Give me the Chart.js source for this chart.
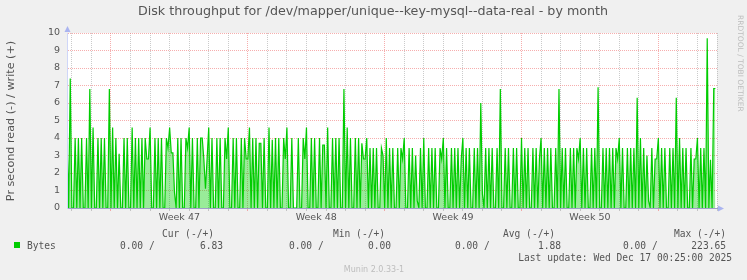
<!DOCTYPE html>
<html>
<head>
<meta charset="utf-8">
<title>Disk throughput - by month</title>
<script src="https://cdn.jsdelivr.net/npm/chart.js@4"></script>
<style>
  body { margin: 0; background: #f0f0f0; }
  canvas { display: block; }
</style>
</head>
<body>
<canvas id="chart" width="747" height="280"></canvas>
<script>
// write (+) bytes per second, one value per 2 hour sample.
// read (-) is 0 for the whole month so it is not drawn.
const week46Tail = [4.0,0,7.4,0,0,4.0,0,4.0,0,4.0,0,0,4.0,0,6.8,0,4.6,0,0,4.0,0,4.0,0,4.0,0,0,6.8];
const week47 = [
    0,4.6,0,4.0,0,3.1,0,0,4.0,0,
    4.0,0,0,4.6,0,4.0,0,4.0,0,4.0,
    0,4.0,2.8,2.8,4.6,0,0,4.0,0,4.0,
    0,4.0,0,0,4.0,3.43,4.6,3.15,3.15,0.86,
    0,4.0,0,4.0,0,0,4.0,3.43,4.6,0,
    4.0,0,0,4.0,0,4.0,4.0,2.8,1.1,2.8,
    4.6,0,4.0,0,0,4.0,0,4.0,0,0,
    4.0,2.8,4.6,0,0,4.0,0,4.0,0,0,
    4.0,0,4.0,2.8
];
const week48 = [
    2.8,4.6,0,4.0,0,4.0,0,3.7,3.7,0,
    4.0,0,0,4.6,0,3.9,0,4.0,0,4.0,
    0,0,4.0,2.8,4.6,0,0,4.0,0,0,
    0,4.0,0,0,4.0,2.8,4.6,0,0,4.0,
    0,4.0,0,0,4.0,0,3.6,3.6,0,4.6,
    0,0,4.0,0,4.0,0,4.0,0,0,6.8,
    0,4.6,0,4.0,0,0,4.0,0,4.0,0,
    3.7,2.8,2.8,4.0,0,3.43,0,3.43,0,3.43,
    0,0,3.43,3.0
];
const week49 = [
    0,4.0,0,3.43,0,3.43,0,0,3.43,0,
    3.43,2.8,4.0,0,0,3.43,0,3.43,0,3.0,
    0.4,0,3.43,0,4.0,0,0,3.43,0,3.43,
    0,3.43,0,0,3.43,2.8,4.0,0,3.43,0,
    0,3.43,0,3.43,0,3.43,0,2.8,4.0,0,
    3.43,0,3.43,0,0,3.43,0,3.43,0,6.0,
    0.8,0,3.43,0,3.43,0,3.43,0,0,3.43,
    0,6.8,0,0,3.43,0,3.43,0,0,3.43,
    0,3.43,0,0
];
const week50 = [
    4.0,0,3.43,0,3.43,0,0,3.43,0,3.43,
    0,2.8,4.0,0,3.43,0,3.43,0,3.43,0,
    0,3.43,0,6.8,0,3.43,0,3.43,0,0,
    3.43,0,3.43,0,3.43,2.8,4.0,0,3.43,0,
    3.43,0,0,3.43,0,3.43,0,6.9,0,0,
    3.43,0,3.43,0,3.43,0,3.43,0,3.43,2.8,
    4.0,0,3.43,0,0,3.43,0,3.43,0,3.43,
    0,6.3,0,4.0,0,3.43,0,3.0,0.4,0,
    3.43,0,2.8,2.8
];
const week51Head = [
    4.0,0,3.43,0,3.43,0,0,3.43,0,3.43,
    0,6.3,0,4.0,0,3.43,0,3.43,0,0,
    3.43,0,2.8,2.8,4.0,0,3.43,0,3.43,0,
    9.7,0,2.75,0,6.83,6.83
];

const weekLabels = ['Week 47', 'Week 48', 'Week 49', 'Week 50'];
const yLabels = [0, 1, 2, 3, 4, 5, 6, 7, 8, 9, 10];
const yGridValues = [0, 0.5, 1, 1.5, 2, 2.5, 3, 3.5, 4, 4.5, 5, 5.5, 6, 6.5, 7, 7.5, 8, 8.5, 9, 9.5, 10];

const legendHeaders = ['Cur (-/+)', 'Min (-/+)', 'Avg (-/+)', 'Max (-/+)'];
const legendRead = ['0.00', '0.00', '0.00', '0.00'];
const legendWrite = ['6.83', '0.00', '1.88', '223.65'];

// hours relative to Monday 00:00 of week 47
const startHour = -54;
const stepHours = 2;
const endHour = 744;
const hoursPerWeek = 168;

const writeValues = [].concat(week46Tail, week47, week48, week49, week50, week51Head);
const points = writeValues.map((v, i) => ({ x: startHour + i * stepHours, y: v }));

const GREEN = '#00cc00';
const RED = 'rgba(240,120,120,0.6)';
const GRAY = 'rgba(140,140,140,0.45)';
const TEXT = '#555';
const AXIS = '#cfd6f8';
const tickFont = { family: 'DejaVu Sans', size: 9.5 };

function xGridColor(c) {
    if (!c.tick) return GRAY;
    const v = c.tick.value;
    if (v % hoursPerWeek === 0) return RED;
    if (v % 24 === 0) return GRAY;
    return 'rgba(0,0,0,0)';
}

const munin = {
    id: 'munin',
    beforeDraw(chart) {
        const { ctx, chartArea: a } = chart;
        ctx.save();
        ctx.fillStyle = '#fff';
        ctx.fillRect(a.left, a.top, a.right - a.left, a.bottom - a.top);
        ctx.restore();
    },
    afterDraw(chart) {
        const { ctx, chartArea: a } = chart;
        ctx.save();

        // arrows on the axes
        ctx.fillStyle = '#aab4f0';
        ctx.beginPath();
        ctx.moveTo(a.left + 0.5, a.top - 7);
        ctx.lineTo(a.left - 2.5, a.top - 1);
        ctx.lineTo(a.left + 3.5, a.top - 1);
        ctx.fill();
        ctx.beginPath();
        ctx.moveTo(a.right + 7, a.bottom + 0.5);
        ctx.lineTo(a.right + 1, a.bottom - 2.5);
        ctx.lineTo(a.right + 1, a.bottom + 3.5);
        ctx.fill();

        // title
        ctx.fillStyle = TEXT;
        ctx.font = '12.7px "DejaVu Sans"';
        ctx.textAlign = 'center';
        ctx.textBaseline = 'middle';
        ctx.fillText('Disk throughput for /dev/mapper/unique--key-mysql--data-real - by month', 373, 12);

        // vertical axis title
        ctx.save();
        ctx.translate(11, 121);
        ctx.rotate(-Math.PI / 2);
        ctx.font = '11.2px "DejaVu Sans"';
        ctx.fillText('Pr second read (-) / write (+)', 0, 0);
        ctx.restore();

        // rrdtool credit
        ctx.save();
        ctx.translate(740, 15);
        ctx.rotate(Math.PI / 2);
        ctx.textAlign = 'left';
        ctx.fillStyle = '#bdbdbd';
        ctx.font = '7.5px "DejaVu Sans"';
        ctx.fillText('RRDTOOL / TOBI OETIKER', 0, 0);
        ctx.restore();

        // legend
        ctx.font = '9.6px "DejaVu Sans Mono"';
        ctx.fillStyle = TEXT;
        const colRight = [214, 385, 555, 726];
        const readLeft = [120, 289, 455, 623];
        ctx.textAlign = 'right';
        legendHeaders.forEach((h, i) => ctx.fillText(h, colRight[i], 234));
        legendWrite.forEach((w, i) => ctx.fillText(w, colRight[i] + (i === 0 ? 9 : i === 3 ? 0 : 6), 246));
        ctx.textAlign = 'left';
        legendRead.forEach((r, i) => ctx.fillText(r + ' /', readLeft[i], 246));
        ctx.fillText('Bytes', 27, 246);
        ctx.textAlign = 'right';
        ctx.fillText('Last update: Wed Dec 17 00:25:00 2025', 732, 258);

        ctx.fillStyle = GREEN;
        ctx.fillRect(14, 242, 6, 6);

        ctx.textAlign = 'center';
        ctx.fillStyle = '#bdbdbd';
        ctx.font = '8px "DejaVu Sans"';
        ctx.fillText('Munin 2.0.33-1', 374, 270);

        ctx.restore();
    }
};

new Chart(document.getElementById('chart'), {
    type: 'line',
    data: {
        datasets: [{
            label: 'Bytes',
            data: points,
            borderColor: GREEN,
            backgroundColor: 'rgba(0,204,0,0.4)',
            borderWidth: 1.2,
            pointRadius: 0,
            tension: 0,
            fill: 'origin'
        }]
    },
    plugins: [munin],
    options: {
        responsive: false,
        animation: false,
        devicePixelRatio: 1,
        layout: { padding: { left: 0, right: 30, top: 33, bottom: 52 } },
        plugins: {
            legend: { display: false },
            tooltip: { enabled: false },
            title: { display: false },
            filler: { propagate: false }
        },
        scales: {
            x: {
                type: 'linear',
                min: startHour,
                max: endHour,
                afterBuildTicks: s => {
                    const t = [];
                    for (let h = Math.ceil(startHour / 12) * 12; h <= endHour; h += 12) t.push({ value: h });
                    s.ticks = t;
                },
                afterFit: s => { s.height = 20; },
                ticks: {
                    autoSkip: false,
                    maxRotation: 0,
                    padding: 1,
                    color: TEXT,
                    font: tickFont,
                    callback: v => (((v % hoursPerWeek) + hoursPerWeek) % hoursPerWeek === 84 ? weekLabels[Math.floor(v / hoursPerWeek)] : '')
                },
                grid: { color: xGridColor, tickColor: xGridColor, tickLength: 3, lineWidth: 1 },
                border: { color: '#a0a0c8', dash: [1, 1], z: 1 }
            },
            y: {
                min: 0,
                max: 10,
                afterBuildTicks: s => { s.ticks = yGridValues.map(v => ({ value: v })); },
                afterFit: s => { s.width = 67; },
                ticks: {
                    padding: 7,
                    color: TEXT,
                    font: tickFont,
                    callback: v => (yLabels.includes(v) ? String(v) : '')
                },
                grid: { color: c => (c.tick && yLabels.includes(c.tick.value) ? RED : GRAY), drawTicks: false, lineWidth: 1 },
                border: { color: AXIS, dash: [1, 1], z: 1 }
            }
        }
    }
});
</script>
</body>
</html>
